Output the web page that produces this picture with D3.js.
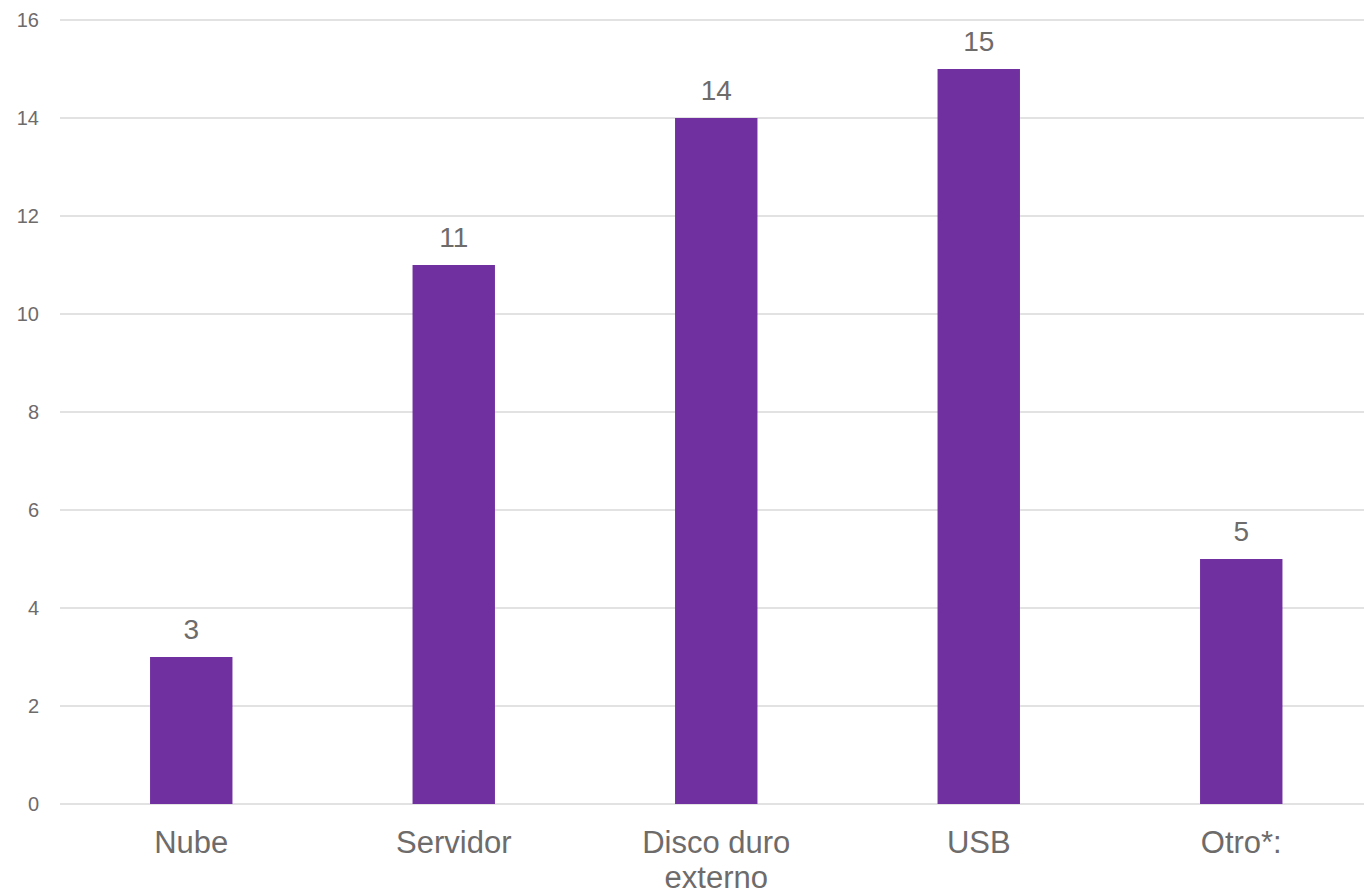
<!DOCTYPE html>
<html>
<head>
    <meta charset="utf-8">
    <title>Copias de seguridad</title>
    <script src="https://d3js.org/d3.v7.min.js"></script>
    <style>
        body { margin: 0; background: #fff; }
        text { font-family: "Liberation Sans", Arial, sans-serif; fill: #6e6b6b; }
    </style>
</head>
<body>
<script>
    var width = 1364;
    var height = 892;

    var categories = [["Nube"], ["Servidor"], ["Disco duro", "externo"], ["USB"], ["Otro*:"]];
    var values = [3, 11, 14, 15, 5];
    var yTicks = [0, 2, 4, 6, 8, 10, 12, 14, 16];

    var svg = d3.select("body")
        .append("svg")
        .attr("width", width)
        .attr("height", height);

    var x = d3.scaleBand()
        .domain(d3.range(values.length))
        .range([60, 1372.5])
        .paddingInner(0.686)
        .paddingOuter(0.343);

    var y = d3.scaleLinear()
        .domain([0, 16])
        .range([804, 20]);

    // gridlines
    svg.append("g")
        .selectAll("line")
        .data(yTicks)
        .enter()
        .append("line")
        .attr("x1", 60)
        .attr("x2", width)
        .attr("y1", function(d){ return y(d); })
        .attr("y2", function(d){ return y(d); })
        .attr("stroke", "#d9d9d9")
        .attr("stroke-width", 1.5);

    // y tick labels
    svg.append("g")
        .selectAll("text")
        .data(yTicks)
        .enter()
        .append("text")
        .attr("x", 39)
        .attr("y", function(d){ return y(d); })
        .attr("dy", "0.35em")
        .attr("text-anchor", "end")
        .attr("font-size", 20)
        .text(function(d){ return d; });

    // bars
    svg.append("g")
        .selectAll("rect")
        .data(values)
        .enter()
        .append("rect")
        .attr("x", function(d, i){ return x(i); })
        .attr("y", function(d){ return y(d); })
        .attr("width", x.bandwidth())
        .attr("height", function(d){ return y(0) - y(d); })
        .attr("fill", "#7030a0");

    // data labels
    svg.append("g")
        .selectAll("text")
        .data(values)
        .enter()
        .append("text")
        .attr("x", function(d, i){ return x(i) + x.bandwidth() / 2; })
        .attr("y", function(d){ return y(d) - 18; })
        .attr("text-anchor", "middle")
        .attr("font-size", 28)
        .text(function(d){ return d; });

    // category labels
    var cat = svg.append("g")
        .selectAll("text")
        .data(categories)
        .enter()
        .append("text")
        .attr("text-anchor", "middle")
        .attr("font-size", 31)
        .attr("transform", function(d, i){
            return "translate(" + (x(i) + x.bandwidth() / 2) + ",853)";
        });
    cat.selectAll("tspan")
        .data(function(d){ return d; })
        .enter()
        .append("tspan")
        .attr("x", 0)
        .attr("y", function(d, j){ return j * 35; })
        .text(function(d){ return d; });
</script>
</body>
</html>
